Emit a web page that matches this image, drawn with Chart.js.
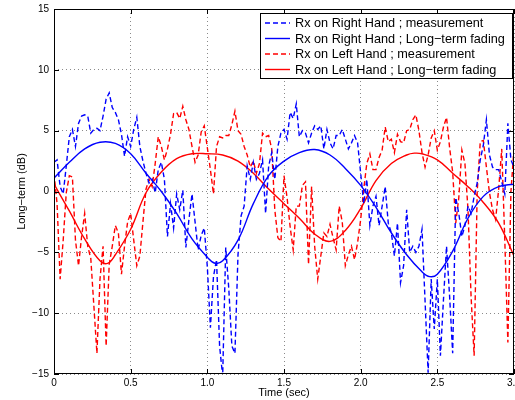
<!DOCTYPE html>
<html lang="en">
<head>
<meta charset="UTF-8">
<title>Long-term fading</title>
<script src="https://cdn.jsdelivr.net/npm/chart.js"></script>
<style>
  html, body { margin: 0; padding: 0; background: #fff; }
  #wrap { width: 515px; height: 400px; }
</style>
</head>
<body>
<div id="wrap"><canvas id="myChart"></canvas></div>
<script>
// measurement samples, one every 0.02 s from 0 to 3 s
const measStep = 0.02;
const rightMeas = [
  2.4, 2.6, 0.4, -0.2, 2.1, 4.5, 5.1, 3.7, 5.6, 6.2,
  6.3, 6.2, 4.8, 5.1, 5.2, 5.0, 6.2, 7.6, 8.1, 6.9,
  6.5, 5.9, 4.7, 2.9, 4.5, 3.7, 5.1, 6.1, 3.7, 2.5,
  1.5, 0.7, 1.0, -0.1, 1.8, 2.4, 1.0, -3.7, -1.0, -3.0,
  -0.2, -1.5, 0.1, -4.6, -2.3, -0.2, -2.5, -4.8, -3.6, -3.0,
  -6.2, -11.2, -7.0, -5.6, -12.7, -15.2, -4.6, -8.0, -12.7, -13.3,
  -5.2, -2.0, -1.2, 2.1, 1.0, 2.4, 1.0, 1.5, 2.6, -1.8,
  2.1, 3.2, 1.0, 3.7, 4.8, 5.1, 4.3, 6.5, 6.0, 7.2,
  4.5, 5.0, 4.8, 4.0, 4.8, 5.4, 5.1, 5.4, 3.5, 5.1,
  4.0, 3.5, 4.6, 4.6, 5.1, 4.3, 3.5, 4.0, 4.6, 4.0,
  1.5, -1.0, 1.0, -2.8, -1.2, -0.4, -2.8, -1.2, 0.4, -2.6,
  -3.4, -5.3, -2.6, -7.5, -6.1, -1.5, -5.0, -4.5, -5.0, -4.5,
  -3.1, -9.0, -14.9, -7.2, -11.3, -7.2, -13.5, -8.9, -4.5, -8.6,
  -13.3, -0.5, -1.8, -3.7, -2.8, -1.2, -1.8, -0.4, 0.7, 2.6,
  3.8, 5.9, 3.0, 2.0, 1.8, 1.8, 0.8, -0.2, 5.6, 2.6,
  2.0
];
const leftMeas = [
  1.5, -1.0, -7.2, -4.0, -0.1, 1.3, 1.2, -4.0, -6.1, -3.7,
  -1.8, -4.5, -5.5, -9.4, -13.3, -7.2, -4.5, -12.7, -6.0, -4.5,
  -2.8, -3.4, -6.8, -4.5, -2.5, -1.8, -4.0, -6.1, -5.3, -2.5,
  0.2, 1.0, 0.4, 2.3, 4.5, 3.7, 2.6, 3.5, 4.7, 6.4,
  6.5, 6.0, 7.0, 5.9, 5.1, 3.7, 2.4, 3.0, 4.9, 5.4,
  3.6, 1.8, -0.2, 3.7, 4.5, 4.4, 4.6, 4.6, 5.5, 6.6,
  5.0, 4.7, 3.7, 3.0, 2.0, 2.5, 1.5, 2.3, 4.8, 4.5,
  4.6, 3.5, -1.5, -3.8, -4.1, 1.3, -0.5, -2.9, -4.8, -1.2,
  -1.2, 0.5, 0.8, -6.0, 0.4, -4.5, -7.2, -5.3, -3.4, -3.7,
  -2.7, -3.8, -4.8, -1.2, -2.5, -6.1, -5.2, -4.5, -5.6, -4.2,
  -2.3, 0.2, 2.3, 3.1, 1.8, 1.8, 2.8, 3.4, 5.3, 4.1,
  4.3, 3.2, 4.7, 4.1, 4.0, 5.0, 5.1, 5.9, 6.3, 5.0,
  3.2, 2.0, 3.0, 4.4, 5.0, 3.4, 4.1, 5.3, 6.1, 3.6,
  1.6, -2.6, -0.5, 3.4, 2.3, -1.5, -8.6, -13.5, 0.0, 4.1,
  4.2, 2.0, -0.1, -1.5, -2.3, 0.2, 3.5, -4.0, -12.4, 0.0,
  3.5
];

// long-term fading curves
const rightFadeT = [0, 0.1, 0.2, 0.3, 0.4, 0.5, 0.6, 0.7, 0.8, 0.9, 1.0, 1.05, 1.1, 1.2, 1.3, 1.4, 1.5,
  1.6, 1.7, 1.8, 1.9, 2.0, 2.1, 2.2, 2.3, 2.4, 2.45, 2.5, 2.6, 2.7, 2.8, 2.9, 3.0];
const rightFade = [1.1, 2.4, 3.5, 4.05, 3.95, 3.1, 1.5, 0.0, -1.8, -3.9, -5.4, -5.9, -5.7, -4.0, -1.0, 1.3, 2.5,
  3.2, 3.45, 3.0, 1.9, 0.5, -1.3, -3.4, -5.2, -6.6, -7.0, -6.8, -4.9, -2.2, -0.4, 0.4, 0.6];
const leftFadeT = [0, 0.1, 0.2, 0.3, 0.35, 0.4, 0.5, 0.6, 0.7, 0.8, 0.9, 1.0, 1.1, 1.2, 1.3, 1.4, 1.5,
  1.6, 1.7, 1.8, 1.9, 2.0, 2.1, 2.2, 2.3, 2.35, 2.4, 2.5, 2.6, 2.7, 2.8, 2.9, 3.0];
const leftFade = [0.6, -1.6, -3.9, -5.7, -5.9, -5.2, -3.1, -0.1, 1.6, 2.7, 3.1, 3.1, 3.0, 2.5, 1.5, 0.2, -1.0,
  -2.2, -3.5, -4.1, -3.2, -1.4, 0.9, 2.3, 3.0, 3.15, 3.1, 2.6, 1.5, 0.4, -0.9, -2.6, -5.3];

const xTicks = [0, 0.5, 1, 1.5, 2, 2.5, 3];
const yTicks = [-15, -10, -5, 0, 5, 10, 15];

const seriesLabels = [
  "Rx on Right Hand ; measurement",
  "Rx on Right Hand ; Long\u2212term fading",
  "Rx on Left Hand ; measurement",
  "Rx on Left Hand ; Long\u2212term fading"
];

const FONT = '"Liberation Sans", Arial, sans-serif';
const minus = (v) => (v < 0 ? "\u2212" + Math.abs(v) : String(v));

const pairs = (xs, ys) => ys.map((y, i) => ({ x: xs[i], y: y }));
const measPts = (ys) => ys.map((y, i) => ({ x: +(i * measStep).toFixed(2), y: y }));

const dash = [5, 3];

const data = {
  datasets: [
    { label: seriesLabels[0], data: measPts(rightMeas), borderColor: "#0000ff", borderDash: dash },
    { label: seriesLabels[1], data: pairs(rightFadeT, rightFade), borderColor: "#0000ff", tension: 0.4 },
    { label: seriesLabels[2], data: measPts(leftMeas), borderColor: "#ff0000", borderDash: dash },
    { label: seriesLabels[3], data: pairs(leftFadeT, leftFade), borderColor: "#ff0000", tension: 0.4 }
  ]
};

// box, inward ticks, axis titles and legend, matlab style
const matlabFrame = {
  id: "matlabFrame",
  afterDraw(chart) {
    const ctx = chart.ctx;
    const a = chart.chartArea;
    const xs = chart.scales.x, ys = chart.scales.y;
    ctx.save();
    ctx.strokeStyle = "#000";
    ctx.lineWidth = 1;
    ctx.strokeRect(a.left + 0.5, a.top + 0.5, a.right - a.left - 1, a.bottom - a.top - 1);
    ctx.beginPath();
    xTicks.forEach((v) => {
      const px = Math.round(xs.getPixelForValue(v)) + 0.5;
      ctx.moveTo(px, a.bottom); ctx.lineTo(px, a.bottom - 5);
      ctx.moveTo(px, a.top); ctx.lineTo(px, a.top + 5);
    });
    yTicks.forEach((v) => {
      const py = Math.round(ys.getPixelForValue(v)) + 0.5;
      ctx.moveTo(a.left, py); ctx.lineTo(a.left + 5, py);
      ctx.moveTo(a.right, py); ctx.lineTo(a.right - 5, py);
    });
    ctx.stroke();

    // axis titles
    ctx.fillStyle = "#000";
    ctx.font = "11px " + FONT;
    ctx.textAlign = "center";
    ctx.textBaseline = "middle";
    ctx.fillText("Time (sec)", (a.left + a.right) / 2, 393);
    ctx.save();
    ctx.translate(22, (a.top + a.bottom) / 2);
    ctx.rotate(-Math.PI / 2);
    ctx.fillText("Long\u2212term (dB)", 0, 0);
    ctx.restore();

    // legend
    const lx = 260, ly = 13, lw = 252, lh = 65;
    ctx.fillStyle = "#fff";
    ctx.fillRect(lx, ly, lw, lh);
    ctx.strokeRect(lx + 0.5, ly + 0.5, lw, lh);
    ctx.font = "12.7px " + FONT;
    ctx.textAlign = "left";
    chart.data.datasets.forEach((ds, i) => {
      const y = ly + 10 + i * 15.5;
      ctx.strokeStyle = ds.borderColor;
      ctx.lineWidth = 1.4;
      ctx.setLineDash(ds.borderDash || []);
      ctx.beginPath();
      ctx.moveTo(lx + 5, y); ctx.lineTo(lx + 30, y);
      ctx.stroke();
      ctx.setLineDash([]);
      ctx.fillStyle = "#000";
      ctx.fillText(ds.label, lx + 35, y + 0.5);
    });
    ctx.restore();
  }
};

const config = {
  type: "line",
  data: data,
  options: {
    responsive: false,
    animation: false,
    devicePixelRatio: 1,
    layout: { padding: { top: 9, right: 1, left: 0, bottom: 0 } },
    elements: {
      point: { radius: 0 },
      line: { borderWidth: 1.4, fill: false }
    },
    plugins: { legend: { display: false }, tooltip: { enabled: false } },
    scales: {
      x: {
        type: "linear", min: 0, max: 3,
        afterFit: (s) => { s.height = 26; s.paddingLeft = 0; s.paddingRight = 0; },
        afterBuildTicks: (s) => { s.ticks = xTicks.map((v) => ({ value: v })); },
        ticks: { padding: 3, color: "#000", font: { size: 10, family: FONT }, maxRotation: 0 },
        grid: { color: "#8a8a8a", drawTicks: false, lineWidth: 1 },
        border: { display: false, dash: [1, 3] }
      },
      y: {
        type: "linear", min: -15, max: 15,
        afterFit: (s) => { s.width = 54; s.paddingTop = 0; s.paddingBottom = 0; },
        afterBuildTicks: (s) => { s.ticks = yTicks.map((v) => ({ value: v })); },
        ticks: { padding: 5, color: "#000", font: { size: 10, family: FONT }, callback: (v) => minus(v) },
        grid: { color: "#8a8a8a", drawTicks: false, lineWidth: 1 },
        border: { display: false, dash: [1, 3] }
      }
    }
  },
  plugins: [matlabFrame]
};

const canvas = document.getElementById("myChart");
canvas.width = 515;
canvas.height = 400;
const myChart = new Chart(canvas, config);
</script>
</body>
</html>
